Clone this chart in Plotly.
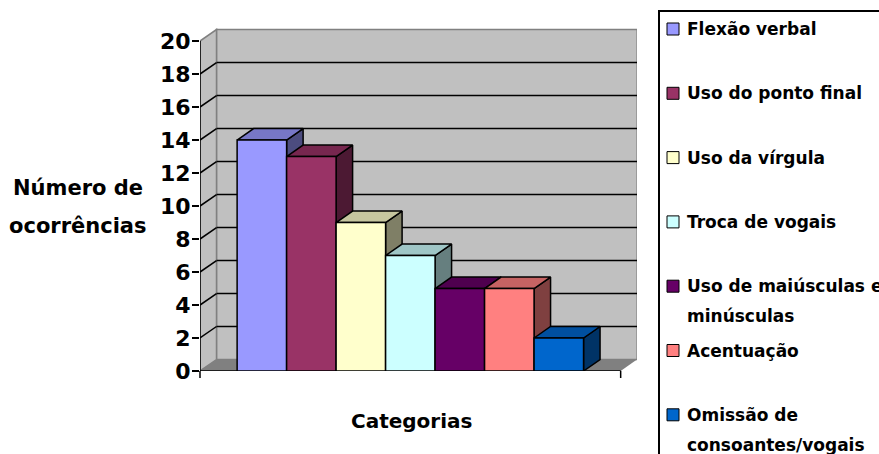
import textwrap
import plotly.graph_objects as go

# ---- data -------------------------------------------------------------
categorias = [
    "Flexão verbal",
    "Uso do ponto final",
    "Uso da vírgula",
    "Troca de vogais",
    "Uso de maiúsculas e minúsculas",
    "Acentuação",
    "Omissão de consoantes/vogais",
]
ocorrencias = [14, 13, 9, 7, 5, 5, 2]
cores = ["#9999FF", "#993366", "#FFFFCC", "#CCFFFF", "#660066", "#FF8080", "#0066CC"]
y_ticks = list(range(0, 21, 2))
titulo_y = ["Número de", "ocorrências"]
titulo_x = "Categorias"

# ---- page geometry ----------------------------------------------------
W, H = 879, 454
ML, MR, MT, MB = 200, 242, 28, 83
PW, PH = W - ML - MR, H - MT - MB
X_MAX = 8.83            # category-axis units (1 unit = one bar width)
Y_MAX = 20.79
PX_X = PW / X_MAX
PX_Y = PH / Y_MAX
DX = 16.5 / PX_X        # oblique depth offset, in axis units
DY = 11.5 / PX_Y
BAR0 = 0.75             # left edge of the first bar
FLOOR_END = 8.5
FONT = "DejaVu Sans"


def px_x(p):
    return (p - ML) / PW


def px_y(p):
    return 1 - (p - MT) / PH


def shade(hex_color, f):
    h = hex_color.lstrip("#")
    r, g, b = (int(h[i:i + 2], 16) for i in (0, 2, 4))
    return "rgb({},{},{})".format(int(r * f), int(g * f), int(b * f))


fig = go.Figure()

# ---- 3-D bars: side, top and front face per series --------------------
for i, (nome, v, c) in enumerate(zip(categorias, ocorrencias, cores)):
    L = BAR0 + i
    R = L + 1
    faces = [
        ([R, R + DX, R + DX, R, R], [0, DY, v + DY, v, 0], shade(c, 0.5)),
        ([L, R, R + DX, L + DX, L], [v, v, v + DY, v + DY, v], shade(c, 0.78)),
        ([L, R, R, L, L], [0, 0, v, v, 0], c),
    ]
    for fx, fy, fc in faces:
        fig.add_trace(go.Scatter(
            x=fx, y=fy, mode="lines", fill="toself", fillcolor=fc,
            line=dict(color="black", width=1.5), name=nome,
            showlegend=False, hoverinfo="skip",
        ))

# ---- walls, floor and gridlines ----------------------------------------
shapes = []
wall = "#C0C0C0"
edge = "#808080"
shapes.append(dict(type="path", layer="below",
                   path=f"M {DX},{DY} L {FLOOR_END + DX},{DY} L {FLOOR_END + DX},{20 + DY} L {DX},{20 + DY} Z",
                   fillcolor=wall, line=dict(color=edge, width=1.5)))
shapes.append(dict(type="path", layer="below",
                   path=f"M 0,0 L {DX},{DY} L {DX},{20 + DY} L 0,20 Z",
                   fillcolor=wall, line=dict(color=edge, width=1.5)))
shapes.append(dict(type="path", layer="below",
                   path=f"M 0,0 L {FLOOR_END},0 L {FLOOR_END + DX},{DY} L {DX},{DY} Z",
                   fillcolor=edge, line=dict(width=0)))
for v in y_ticks[1:-1]:
    shapes.append(dict(type="line", layer="below", x0=DX, x1=FLOOR_END + DX, y0=v + DY, y1=v + DY,
                       line=dict(color="black", width=1.5)))
    shapes.append(dict(type="line", layer="below", x0=0, x1=DX, y0=v, y1=v + DY,
                       line=dict(color="black", width=1.5)))
# front axis lines
shapes.append(dict(type="line", layer="below", x0=0, x1=0, y0=0, y1=y_ticks[-1],
                   line=dict(color="black", width=1.5)))
shapes.append(dict(type="line", layer="below", x0=0, x1=FLOOR_END, y0=0, y1=0,
                   line=dict(color="black", width=1.5)))
xr = px_x(ML + FLOOR_END * PX_X)
shapes.append(dict(type="line", xref="paper", yref="paper", x0=xr, x1=xr,
                   y0=0, y1=px_y(MT + PH + 7), line=dict(color="black", width=1.5)))
shapes.append(dict(type="line", xref="paper", yref="paper", x0=0, x1=0,
                   y0=0, y1=px_y(MT + PH + 7), line=dict(color="black", width=1.5)))

# ---- legend box --------------------------------------------------------
shapes.append(dict(type="rect", xref="paper", yref="paper",
                   x0=px_x(659), x1=px_x(W + 20), y0=px_y(11), y1=px_y(H + 20),
                   line=dict(color="black", width=2), fillcolor="rgba(0,0,0,0)"))

annotations = []
row0, row_step, line_step = 29, 64.3, 30
for i, (nome, c) in enumerate(zip(categorias, cores)):
    cy = row0 + i * row_step
    shapes.append(dict(type="rect", xref="paper", yref="paper",
                       x0=px_x(667), x1=px_x(679), y0=px_y(cy - 6), y1=px_y(cy + 6),
                       fillcolor=c, line=dict(color="black", width=1)))
    for k, linha in enumerate(textwrap.wrap(nome, 19)):
        annotations.append(dict(text=linha, xref="paper", yref="paper",
                                x=px_x(685), y=px_y(cy + k * line_step),
                                xanchor="left", yanchor="middle", showarrow=False,
                                font=dict(family=FONT, size=17, color="black", weight="bold")))

# ---- axis titles -------------------------------------------------------
for k, linha in enumerate(titulo_y):
    annotations.append(dict(text=linha, xref="paper", yref="paper",
                            x=px_x(78), y=px_y(188 + k * 38), xanchor="center", yanchor="middle",
                            showarrow=False,
                            font=dict(family=FONT, size=21, color="black", weight="bold")))
annotations.append(dict(text=titulo_x, xref="paper", yref="paper",
                        x=px_x(411), y=px_y(421), xanchor="center", yanchor="middle",
                        showarrow=False,
                        font=dict(family=FONT, size=20, color="black", weight="bold")))

fig.update_layout(
    width=W, height=H,
    margin=dict(l=ML, r=MR, t=MT, b=MB, autoexpand=False),
    paper_bgcolor="white", plot_bgcolor="white",
    showlegend=False,
    shapes=shapes, annotations=annotations,
    xaxis=dict(range=[0, X_MAX], showgrid=False, zeroline=False, showline=False,
               showticklabels=False, ticks="", fixedrange=True),
    yaxis=dict(range=[0, Y_MAX], showgrid=False, zeroline=False, showline=False,
               tickvals=y_ticks, ticks="outside", ticklen=7, tickwidth=1.5, tickcolor="black",
               ticklabelstandoff=-3,
               tickfont=dict(family=FONT, size=22, color="black", weight="bold"),
               fixedrange=True),
)

fig.write_html("out.html", config={"displayModeBar": False})
